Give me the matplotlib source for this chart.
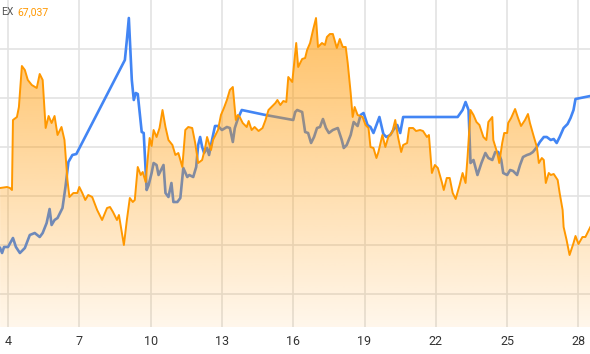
import numpy as np
import matplotlib
matplotlib.use("Agg")
import matplotlib.pyplot as plt
from matplotlib.colors import to_rgb

plt.rcParams['font.family'] = ['Roboto', 'DejaVu Sans']

# hours since day 4, 00:00 ; values in chart units
orange_h = [-8, -1, 2, 4, 5, 9, 11, 14, 17, 20, 24, 29, 32, 35, 38, 41, 44, 47, 50, 54, 57, 60, 62, 66, 70, 72, 75, 78, 81, 85,
            90, 95, 100, 103, 106, 110, 112, 115, 117, 120, 123, 126, 128, 131, 134, 136, 139, 140, 143, 145, 147, 150, 153, 156, 159,
            162, 166, 169, 172, 176, 179, 182, 186, 189, 192, 196, 199, 201, 205, 207, 212, 215, 218, 221, 224, 227, 230, 232, 234,
            237, 241, 243, 246, 249, 253, 257, 260, 263, 267, 270, 272, 275, 278, 281, 283, 287, 288, 291, 293, 297, 300, 302, 305,
            308, 311, 313, 317, 320, 322, 325, 328, 332, 335, 338, 341, 343, 346, 348, 350, 353, 358, 361, 364, 366, 369, 372, 374,
            378, 381, 384, 388, 391, 394, 397, 399, 403, 405, 409, 412, 416, 419, 423, 425, 428, 431, 434, 438, 440, 443, 446, 449,
            452, 456, 459, 462, 464, 467, 470, 473, 476, 480, 483, 485, 489, 490, 494, 496, 499, 501, 504, 505, 508, 512, 515, 518,
            522, 525, 527, 531, 534, 536, 539, 541, 543, 546, 548, 551, 555, 557, 560, 561, 564, 567, 571, 573, 576, 580, 583, 585, 588]
orange_v = [142, 143, 142, 140, 210, 213, 223, 264, 260, 250, 245, 242, 256, 250, 202, 214, 207, 214, 195, 203, 190, 150, 133, 137,
            137, 143, 137, 130, 135, 133, 120, 110, 122, 123, 118, 110, 115, 97, 85, 110, 132, 128, 130, 163, 155, 158, 148, 160, 192,
            184, 200, 193, 202, 220, 203, 190, 185, 175, 177, 163, 200, 203, 202, 187, 167, 170, 182, 193, 180, 190, 200, 215, 222,
            230, 240, 243, 210, 215, 213, 207, 203, 209, 200, 203, 199, 202, 210, 220, 224, 227, 230, 225, 229, 228, 253, 248, 258,
            287, 263, 271, 272, 280, 287, 300, 312, 283, 287, 285, 293, 296, 296, 282, 291, 283, 283, 267, 237, 213, 223, 215, 213,
            205, 202, 183, 182, 172, 178, 195, 183, 193, 198, 210, 192, 178, 185, 187, 202, 202, 199, 200, 199, 193, 195, 157, 165,
            162, 148, 140, 152, 152, 137, 131, 145, 157, 147, 173, 220, 215, 208, 205, 193, 190, 208, 213, 190, 177, 167, 187, 197,
            197, 207, 212, 221, 212, 204, 210, 216, 207, 193, 183, 167, 172, 170, 147, 157, 155, 156, 150, 137, 120, 103, 90, 75, 87,
            94, 86, 93, 93, 97, 103]

blue_h = [-8, -6, -4, 0, 5, 8, 12, 17, 22, 27, 32, 35, 39, 42, 44, 47, 50, 55, 58, 61, 65, 69, 118, 120, 122, 125, 127, 129, 131,
          135, 137, 140, 142, 145, 147, 150, 152, 157, 159, 162, 165, 167, 171, 174, 177, 181, 183, 187, 190, 192, 194, 196, 198,
          201, 203, 206, 209, 212, 216, 221, 224, 227, 229, 232, 236, 260, 288, 290, 292, 297, 300, 303, 306, 309, 312, 315, 318,
          321, 324, 328, 333, 337, 339, 342, 346, 349, 353, 356, 359, 363, 366, 369, 372, 375, 379, 382, 386, 389, 393, 396, 399,
          403, 454, 459, 462, 465, 467, 470, 474, 478, 482, 485, 489, 492, 495, 498, 500, 504, 507, 510, 514, 517, 520, 524, 527,
          530, 534, 537, 541, 544, 548, 551, 554, 557, 561, 565, 568, 571, 573, 578, 588]
blue_v = [82, 77, 83, 83, 92, 83, 77, 82, 95, 97, 93, 97, 107, 121, 105, 110, 112, 122, 143, 168, 175, 176, 270, 290, 312, 250,
          230, 237, 236, 198, 197, 140, 145, 157, 167, 165, 155, 165, 137, 133, 147, 128, 128, 132, 162, 153, 155, 153, 163, 185,
          193, 183, 177, 182, 175, 190, 204, 204, 200, 203, 202, 188, 202, 211, 220, 215, 210, 218, 220, 218, 198, 197, 187, 193,
          202, 203, 211, 202, 197, 200, 202, 190, 182, 185, 195, 208, 204, 215, 217, 205, 203, 197, 205, 213, 196, 193, 195, 200,
          205, 197, 213, 213, 213, 220, 228, 220, 167, 170, 155, 167, 177, 172, 170, 178, 178, 170, 157, 155, 160, 159, 155, 165,
          173, 175, 176, 178, 183, 188, 193, 193, 190, 191, 187, 193, 202, 206, 212, 220, 231, 232, 234]

tick_days = [4, 7, 10, 13, 16, 19, 22, 25, 28]
legend_name = "EX"
legend_value = "67,037"

ORANGE = "#ff9800"
BLUE = "#4285f4"

od = 4 + np.array(orange_h) / 24.0
bd = 4 + np.array(blue_h) / 24.0
ov = np.array(orange_v, dtype=float)
bv = np.array(blue_v, dtype=float)

fig = plt.figure(figsize=(5.9, 3.54), dpi=100)
ax = fig.add_axes([0, 27 / 354, 1, 1 - 27 / 354])
x0, x1 = 3.663, 28.485
y0, y1 = 3, 330
ax.set_xlim(x0, x1)
ax.set_ylim(y0, y1)

ax.set_xticks(tick_days)
ax.set_xticklabels([str(d) for d in tick_days])
ax.set_yticks(np.arange(36, 330, 49))
ax.tick_params(axis='x', length=0, pad=6, labelsize=9, labelcolor="#333333")
ax.tick_params(axis='y', length=0, labelleft=False)
ax.grid(True, color="#e3e3e3", linewidth=1.2, zorder=0)
ax.set_axisbelow(True)
for s in ax.spines.values():
    s.set_visible(False)

ax.plot(bd, bv, color=BLUE, linewidth=1.9, zorder=2, solid_joinstyle='round')

poly = ax.fill_between(od, ov, y0, facecolor='none', edgecolor='none', zorder=3)
n = 256
grad = np.zeros((n, 1, 4))
r, g, b = to_rgb(ORANGE)
grad[:, 0, 0] = r
grad[:, 0, 1] = g
grad[:, 0, 2] = b
grad[:, 0, 3] = np.linspace(0.64, 0.08, n)   # row 0 = top
im = ax.imshow(grad, extent=[x0, x1, y0, y1], aspect='auto', origin='upper', zorder=3, interpolation='bilinear')
im.set_clip_path(poly.get_paths()[0], transform=ax.transData)
ax.set_xlim(x0, x1)
ax.set_ylim(y0, y1)

ax.plot(od, ov, color=ORANGE, linewidth=1.4, zorder=4, solid_joinstyle='round')

fig.text(1 / 590, 1 - 12 / 354, legend_name, ha='left', va='center', fontsize=7.5, color="#555555")
fig.text(17 / 590, 1 - 12 / 354, legend_value, ha='left', va='center', fontsize=7.5, color=ORANGE)

fig.savefig("out.png", dpi=100)
